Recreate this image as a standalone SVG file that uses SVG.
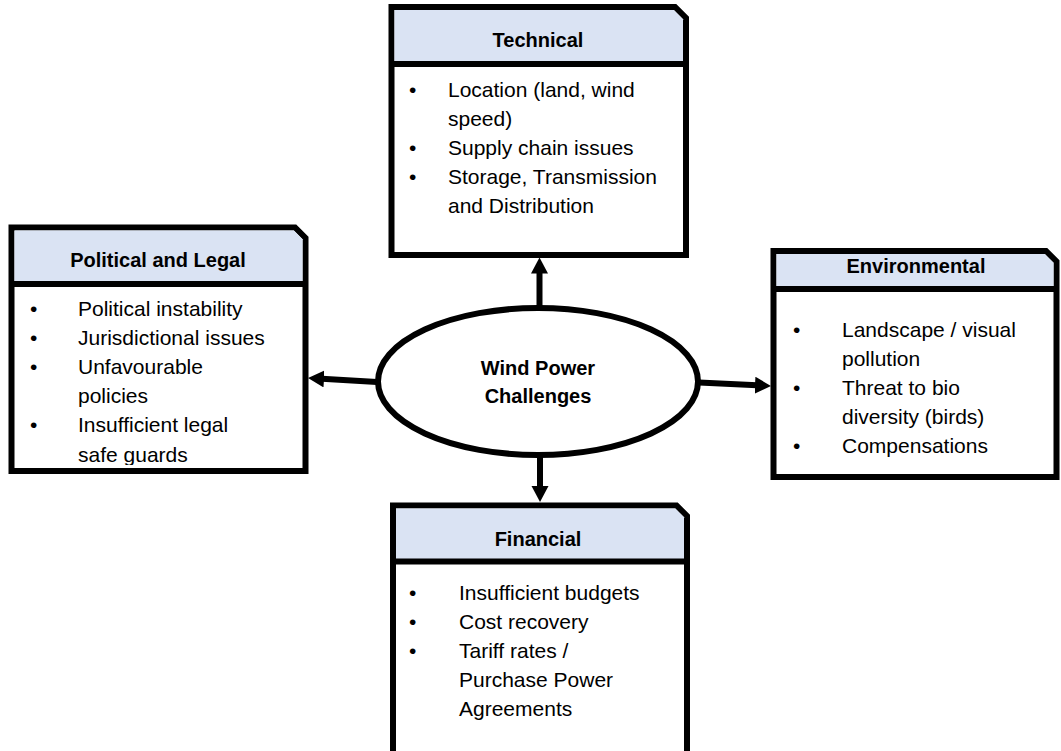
<svg xmlns="http://www.w3.org/2000/svg" width="1061" height="751" viewBox="0 0 1061 751">
<style>
.box{fill:#ffffff;stroke:#000;stroke-width:6;stroke-linejoin:miter}
.hdr{fill:#DAE3F3;stroke:none}
.sep{stroke:#000;stroke-width:6}
.ht{font-family:"Liberation Sans",Arial,sans-serif;font-weight:bold;font-size:20px;fill:#000;text-anchor:middle}
.bt{font-family:"Liberation Sans",Arial,sans-serif;font-size:21px;fill:#000}
.con{stroke:#000;stroke-width:6;fill:none}
</style>
<defs>
<marker id="ah" markerUnits="userSpaceOnUse" markerWidth="18" markerHeight="18" refX="2" refY="8.5" orient="auto">
<path d="M0,0 L16,8.5 L0,17 Z" fill="#000"/>
</marker>
<clipPath id="clipPol"><rect x="14.5" y="287" width="288" height="178"/></clipPath>
</defs>
<rect width="1061" height="751" fill="#fff"/>

<g id="technical">
<path class="box" d="M391.5,7 H675 L686,18 V255 H391.5 Z"/>
<path class="hdr" d="M394.5,10 H673.8 L683,19.2 V64 H394.5 Z"/>
<line class="sep" x1="391.5" y1="64" x2="686" y2="64"/>
<text class="ht" x="538" y="47">Technical</text>
<g class="bt">
<text x="409" y="97">•</text><text x="448" y="97">Location (land, wind</text>
<text x="448" y="126">speed)</text>
<text x="409" y="155">•</text><text x="448" y="155">Supply chain issues</text>
<text x="409" y="184">•</text><text x="448" y="184">Storage, Transmission</text>
<text x="448" y="213">and Distribution</text>
</g>
</g>

<g id="political">
<path class="box" d="M11.5,227.5 H295 L305.5,238 V471 H11.5 Z"/>
<path class="hdr" d="M14.5,230.5 H293.8 L302.5,239.2 V284 H14.5 Z"/>
<line class="sep" x1="11.5" y1="284" x2="305.5" y2="284"/>
<text class="ht" x="158" y="267">Political and Legal</text>
<g class="bt" clip-path="url(#clipPol)">
<text x="30" y="316">•</text><text x="78" y="316">Political instability</text>
<text x="30" y="345">•</text><text x="78" y="345">Jurisdictional issues</text>
<text x="30" y="374">•</text><text x="78" y="374">Unfavourable</text>
<text x="78" y="403">policies</text>
<text x="30" y="432">•</text><text x="78" y="432">Insufficient legal</text>
<text x="78" y="462">safe guards</text>
</g>
</g>

<g id="environmental">
<path class="box" d="M773.5,251 H1046 L1056.5,261.5 V477 H773.5 Z"/>
<path class="hdr" d="M776.5,254 H1044.8 L1053.5,262.7 V289 H776.5 Z"/>
<line class="sep" x1="773.5" y1="289" x2="1056.5" y2="289"/>
<text class="ht" x="916" y="273">Environmental</text>
<g class="bt">
<text x="793" y="337">•</text><text x="842" y="337">Landscape / visual</text>
<text x="842" y="366">pollution</text>
<text x="793" y="395">•</text><text x="842" y="395">Threat to bio</text>
<text x="842" y="424">diversity (birds)</text>
<text x="793" y="453">•</text><text x="842" y="453">Compensations</text>
</g>
</g>

<g id="financial">
<path class="box" d="M393,505.5 H676.5 L687,516 V760 H393 Z"/>
<path class="hdr" d="M396,508.5 H675.3 L684,517.2 V561.5 H396 Z"/>
<line class="sep" x1="393" y1="561.5" x2="687" y2="561.5"/>
<text class="ht" x="538" y="546">Financial</text>
<g class="bt">
<text x="409" y="600">•</text><text x="459" y="600">Insufficient budgets</text>
<text x="409" y="629">•</text><text x="459" y="629">Cost recovery</text>
<text x="409" y="658">•</text><text x="459" y="658">Tariff rates /</text>
<text x="459" y="687">Purchase Power</text>
<text x="459" y="716">Agreements</text>
</g>
</g>

<g id="center">
<ellipse cx="538" cy="381.5" rx="160" ry="73.5" fill="#fff" stroke="#000" stroke-width="6"/>
<text class="ht" x="538" y="375">Wind Power</text>
<text class="ht" x="538" y="403">Challenges</text>
</g>

<g id="connectors">
<line class="con" x1="539.5" y1="307" x2="539.5" y2="271.5" marker-end="url(#ah)"/>
<line class="con" x1="540" y1="456" x2="540" y2="488" marker-end="url(#ah)"/>
<line class="con" x1="377" y1="382" x2="322" y2="378.8" marker-end="url(#ah)"/>
<line class="con" x1="699" y1="382.5" x2="757" y2="385.3" marker-end="url(#ah)"/>
</g>
</svg>
